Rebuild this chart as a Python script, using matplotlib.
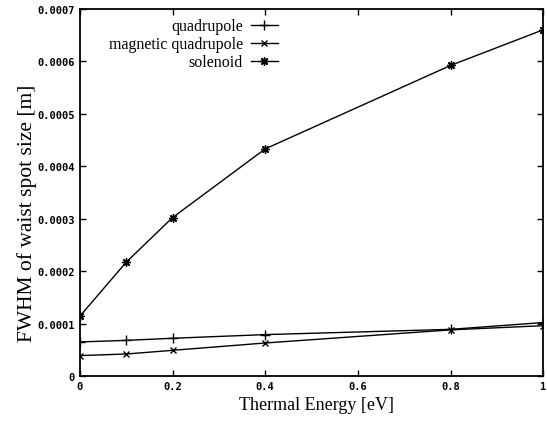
import matplotlib
matplotlib.use('Agg')
import matplotlib.pyplot as plt
import numpy as np

# data
energy = [0, 0.1, 0.2, 0.4, 0.8, 1.0]
quadrupole = [0.65e-4, 0.68e-4, 0.72e-4, 0.79e-4, 0.89e-4, 1.02e-4]
mag_quadrupole = [0.39e-4, 0.42e-4, 0.49e-4, 0.63e-4, 0.88e-4, 0.96e-4]
solenoid = [1.14e-4, 2.17e-4, 3.02e-4, 4.33e-4, 5.92e-4, 6.60e-4]

xticks = [0, 0.2, 0.4, 0.6, 0.8, 1]
xticklabels = ['0', '0.2', '0.4', '0.6', '0.8', '1']
yticks = [0, 1e-4, 2e-4, 3e-4, 4e-4, 5e-4, 6e-4, 7e-4]
yticklabels = ['0', '0.0001', '0.0002', '0.0003', '0.0004', '0.0005', '0.0006', '0.0007']

fig = plt.figure(figsize=(5.47, 4.27), dpi=100)
ax = fig.add_axes([0.146, 0.117, 0.847, 0.86])

ax.plot(energy, quadrupole, color='black', lw=1, marker='+', ms=7, mew=1, label='quadrupole')
ax.plot(energy, mag_quadrupole, color='black', lw=1, marker='x', ms=5, mew=1, label='magnetic quadrupole')
ax.plot(energy, solenoid, color='black', lw=1, marker=(8, 2, 0), ms=6, mew=1, label='solenoid')

ax.set_xlim(0, 1)
ax.set_ylim(0, 0.0007)
ax.set_xticks(xticks)
ax.set_xticklabels(xticklabels)
ax.set_yticks(yticks)
ax.set_yticklabels(yticklabels)
ax.tick_params(direction='in', top=True, right=True, length=4, width=1, labelsize=7.5)
for lab in ax.get_xticklabels() + ax.get_yticklabels():
    lab.set_family('DejaVu Sans Mono')
    lab.set_weight('bold')
for s in ax.spines.values():
    s.set_linewidth(1.3)

ax.set_xlabel('Thermal Energy [eV]', family='Liberation Serif', fontsize=13)
ax.set_ylabel('FWHM of waist spot size [m]', family='Liberation Serif', fontsize=15.5)
ax.xaxis.set_label_coords(0.51, -0.055)
ax.yaxis.set_label_coords(-0.093, 0.447)

leg = ax.legend(loc='upper right', bbox_to_anchor=(0.448, 1.0), frameon=False, markerfirst=False,
                prop={'family': 'Liberation Serif', 'size': 11.5}, handlelength=1.7,
                labelspacing=0.12, handletextpad=0.5, borderaxespad=0.2)
for t in leg.get_texts():
    t.set_ha('right')
leg._legend_box.align = 'right'

fig.savefig('out.png', dpi=100)
